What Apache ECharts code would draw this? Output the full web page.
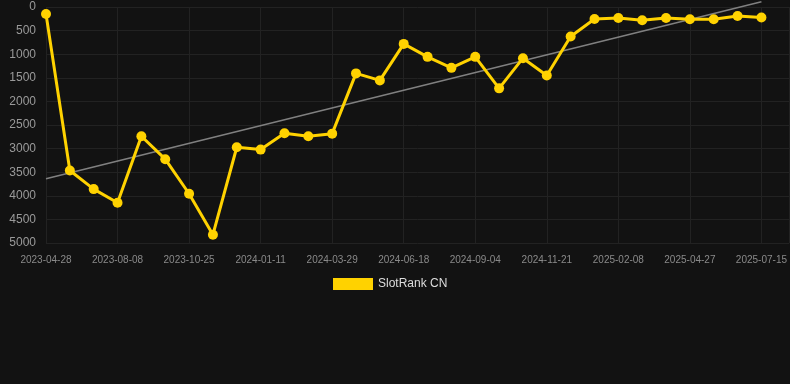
<!DOCTYPE html>
<html>
<head>
<meta charset="utf-8">
<script src="https://cdn.jsdelivr.net/npm/echarts@6/dist/echarts.min.js"></script>
<style>
html,body{margin:0;padding:0;background:#121212;}
#c{width:790px;height:384px;}
</style>
</head>
<body>
<div id="c"></div>
<script>
const dates = ['2023-04-28','2023-06-01','2023-07-05','2023-08-08','2023-09-03','2023-09-29','2023-10-25','2023-11-20','2023-12-16','2024-01-11','2024-02-06','2024-03-03','2024-03-29','2024-04-25','2024-05-22','2024-06-18','2024-07-12','2024-08-08','2024-09-04','2024-09-29','2024-10-26','2024-11-21','2024-12-17','2025-01-13','2025-02-08','2025-03-05','2025-04-01','2025-04-27','2025-05-23','2025-06-19','2025-07-15'];
const rankValues = [150,3465,3858,4148,2738,3224,3957,4824,2971,3021,2675,2738,2683,1407,1555,782,1056,1289,1056,1724,1084,1450,625,253,232,281,232,260,260,190,224];
const trendEnds = [3640,-110];
const yTicks = [0,500,1000,1500,2000,2500,3000,3500,4000,4500,5000];
const seriesName = 'SlotRank CN';

const chart = echarts.init(document.getElementById('c'), null, {renderer:'canvas'});
const lineData = rankValues.map((v,i)=>[i,v]);
const trendData = [[0,trendEnds[0]],[rankValues.length-1,trendEnds[1]]];
chart.setOption({
  backgroundColor:'#121212',
  animation:false,
  grid:{left:46,right:0,top:7,bottom:141},
  legend:{
    data:[seriesName],
    left:328, top:273,
    itemWidth:40,itemHeight:12,itemGap:10,
    icon:'rect',
    textStyle:{color:'#dddddd',fontSize:12,fontFamily:'Arial, Liberation Sans, sans-serif'}
  },
  xAxis:{
    type:'value',
    min:0,
    max:31.17,
    interval:3,
    axisLine:{show:false},
    axisTick:{show:false},
    splitLine:{show:true,lineStyle:{color:'#222222',width:1}},
    axisLabel:{
      color:'#8a8a8a',fontSize:10,margin:12,
      fontFamily:'Arial, Liberation Sans, sans-serif',
      showMaxLabel:false,
      formatter:function(v){ return (Number.isInteger(v) && v%3===0 && dates[v]) ? dates[v] : ''; }
    }
  },
  yAxis:{
    type:'value',
    inverse:true,
    min:yTicks[0],
    max:yTicks[yTicks.length-1],
    interval:500,
    axisLine:{show:false},
    axisTick:{show:false},
    splitLine:{show:true,lineStyle:{color:'#222222',width:1}},
    axisLabel:{color:'#9a9a9a',fontSize:12,margin:10,fontFamily:'Arial, Liberation Sans, sans-serif',
      formatter:function(v){ return String(v); }}
  },
  series:[
    {
      name:'trend',
      type:'line',
      data:trendData,
      symbol:'none',
      clip:false,
      silent:true,
      lineStyle:{color:'#808080',width:1.5},
      itemStyle:{color:'#808080'},
      z:1
    },
    {
      name:seriesName,
      type:'line',
      data:lineData,
      symbol:'circle',
      symbolSize:10,
      clip:false,
      lineStyle:{color:'#ffd200',width:3},
      itemStyle:{color:'#ffd200'},
      z:3
    }
  ]
});
</script>
</body>
</html>
